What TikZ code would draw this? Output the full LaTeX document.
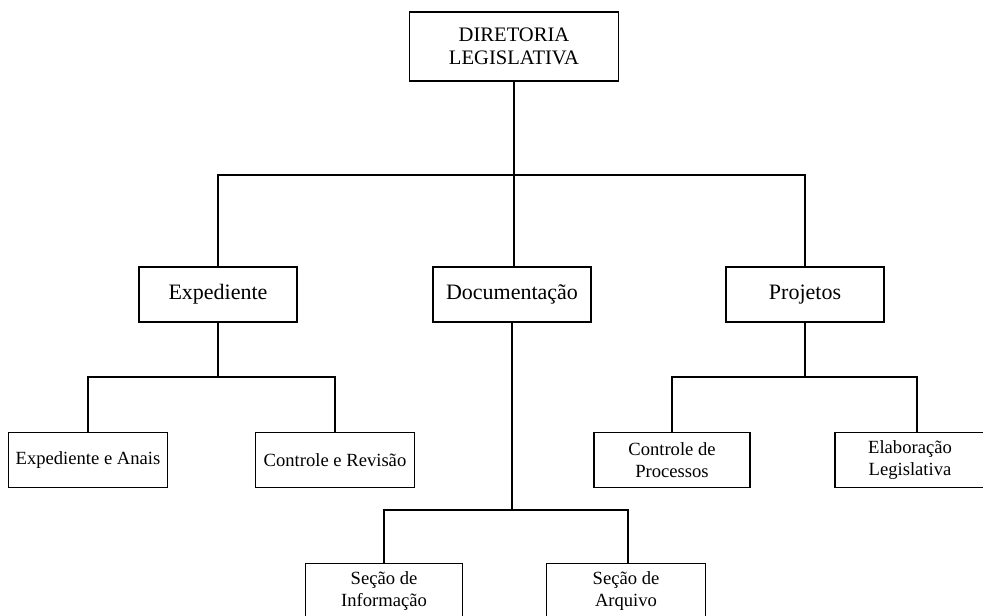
\documentclass[tikz,border=0pt]{standalone}
\usepackage{fontspec}
\setmainfont{Liberation Serif}
\begin{document}
\begin{tikzpicture}[x=1pt,y=-1pt,
  box/.style={draw, line width=1.6pt, inner sep=0pt, align=center},
  bigbox/.style={box, minimum width=158pt, minimum height=55pt, font=\fontsize{22}{25}\selectfont},
  smallbox/.style={box, minimum width=158pt, minimum height=55pt, font=\fontsize{18.6}{21.5}\selectfont},
  link/.style={line width=1.6pt}]
\useasboundingbox (0,0) rectangle (983,616);
\fill[white] (0,0) rectangle (983,616);
\clip (0,0) rectangle (983,616);
% top
\node[box, minimum width=209pt, minimum height=69pt, font=\fontsize{20.6}{23}\selectfont] (top) at (514,46.5) {DIRETORIA\\LEGISLATIVA};
% level 2
\node[bigbox] (exp) at (218,294.5) {Expediente};
\node[bigbox] (doc) at (512,294.5) {Documentação};
\node[bigbox] (pro) at (805,294.5) {Projetos};
% level 3
\node[smallbox, minimum width=159pt] (ea) at (88,460) {Expediente e Anais};
\node[smallbox, minimum width=159pt] (cr) at (335,460) {Controle e Revisão};
\node[smallbox, minimum width=156pt] (cp) at (672,460) {Controle de\\Processos};
\node[smallbox, minimum width=150pt] (el) at (910,460) {Elaboração\\Legislativa};
% level 4
\node[smallbox, minimum width=157pt] (si) at (384,591) {Seção de\\Informação};
\node[smallbox, minimum width=159pt] (sa) at (626,591) {Seção de\\Arquivo};
% bus coordinates
\coordinate (bus1) at (0,175);
\coordinate (bus2) at (0,377);
\coordinate (bus3) at (0,510);
% connectors
\draw[link] (top.south) -- (top.south |- doc.north);
\draw[link] (exp.north) |- (pro.north |- bus1) -- (pro.north);
\draw[link] (exp.south) -- (exp.south |- bus2);
\draw[link] (ea.north) |- (cr.north |- bus2) -- (cr.north);
\draw[link] (pro.south) -- (pro.south |- bus2);
\draw[link] (cp.north) |- ([xshift=7pt]el.north |- bus2) -- ([xshift=7pt]el.north);
\draw[link] (doc.south) -- (doc.south |- bus3);
\draw[link] (si.north) |- ([xshift=2pt]sa.north |- bus3) -- ([xshift=2pt]sa.north);
\end{tikzpicture}
\end{document}
